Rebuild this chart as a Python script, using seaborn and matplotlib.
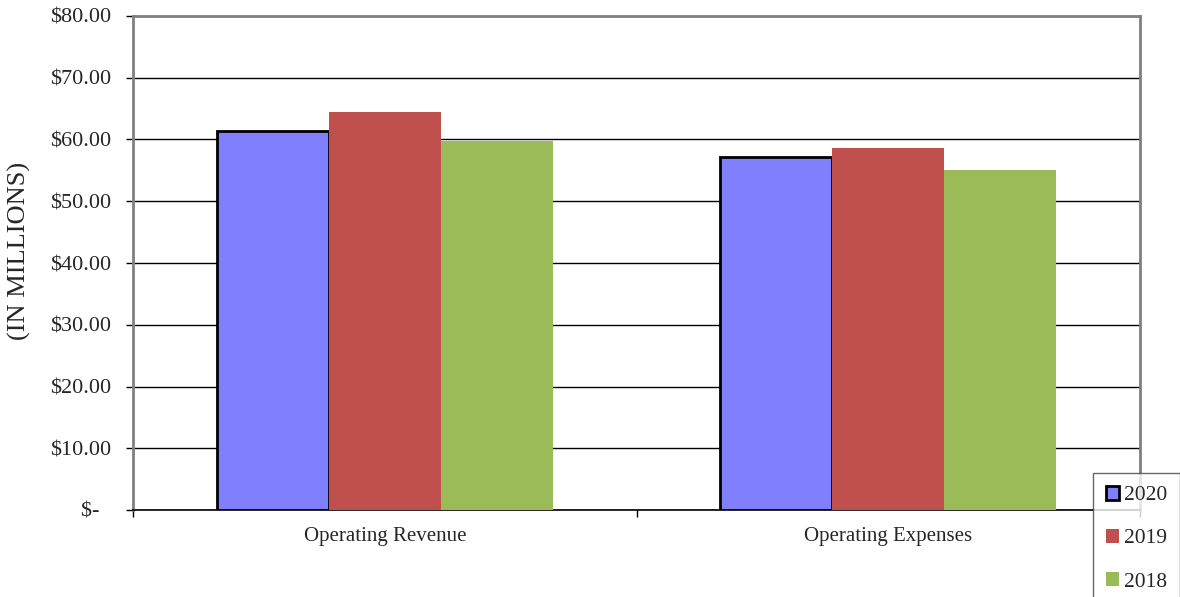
import matplotlib
matplotlib.use("Agg")
import matplotlib.pyplot as plt
from matplotlib.patches import Patch
from matplotlib.ticker import FixedLocator
import seaborn as sns
import pandas as pd

# values, in millions
categories = ['Operating Revenue', 'Operating Expenses']
years = ['2020', '2019', '2018']
vals_2020 = [61.4, 57.1]
vals_2019 = [64.4, 58.7]
vals_2018 = [59.7, 55.0]
colors = ['#8080FF', '#C0504D', '#9BBB59']
y_ticks = [0, 10, 20, 30, 40, 50, 60, 70, 80]
y_labels = ['$-  ', '$10.00', '$20.00', '$30.00', '$40.00', '$50.00', '$60.00', '$70.00', '$80.00']

rows = []
for yr, vals in zip(years, [vals_2020, vals_2019, vals_2018]):
    for cat, v in zip(categories, vals):
        rows.append({'category': cat, 'year': yr, 'value': v})
df = pd.DataFrame(rows)

sns.set_style("white")
plt.rcParams['font.family'] = ['Liberation Serif', 'DejaVu Serif']

fig = plt.figure(figsize=(11.8, 5.97), dpi=100)
ax = fig.add_axes([133 / 1180, 1 - 510 / 597, (1140 - 133) / 1180, (510 - 16) / 597])

sns.barplot(data=df, x='category', y='value', hue='year', hue_order=years,
            palette=colors, width=0.667, saturation=1, linewidth=0, ax=ax,
            legend=False, zorder=3)

# 2020 bars have a black outline
for bar in ax.containers[0]:
    bar.set_edgecolor('black')
    bar.set_linewidth(2)

ax.set_xlim(-0.5, 1.5)
ax.set_ylim(0, 80)
ax.set_yticks(y_ticks)
ax.set_yticklabels(y_labels, fontsize=16)
ax.grid(axis='y', color='black', linewidth=1, zorder=0)
ax.tick_params(axis='y', length=5, width=1, color='black', left=True, pad=11)
ax.tick_params(axis='x', which='major', length=0, labelsize=15, pad=12)
ax.xaxis.set_minor_locator(FixedLocator([-0.5, 0.5, 1.5]))
ax.tick_params(axis='x', which='minor', length=5, width=1, color='black', bottom=True)
ax.set_xlabel('')
ax.set_ylabel('(IN MILLIONS)', fontsize=19)
ax.yaxis.set_label_coords(-0.101, 0.524)

for side in ['top', 'left', 'right']:
    ax.spines[side].set_color('#808080')
    ax.spines[side].set_linewidth(2)
ax.spines['bottom'].set_color('black')
ax.spines['bottom'].set_linewidth(1.2)

handles = [Patch(facecolor=colors[0], edgecolor='black', linewidth=2),
           Patch(facecolor=colors[1], edgecolor='none'),
           Patch(facecolor=colors[2], edgecolor='none')]
leg = fig.legend(handles, years, loc='upper left',
                 bbox_to_anchor=(1093 / 1180, 1 - 473 / 597),
                 fontsize=15.5, frameon=True, fancybox=False, shadow=False,
                 handlelength=0.6, handleheight=0.6, handletextpad=0.25,
                 labelspacing=1.1, borderpad=0.6, borderaxespad=0)
leg.get_frame().set_edgecolor('#404040')
leg.get_frame().set_linewidth(1)

fig.savefig("out.png", dpi=100)
